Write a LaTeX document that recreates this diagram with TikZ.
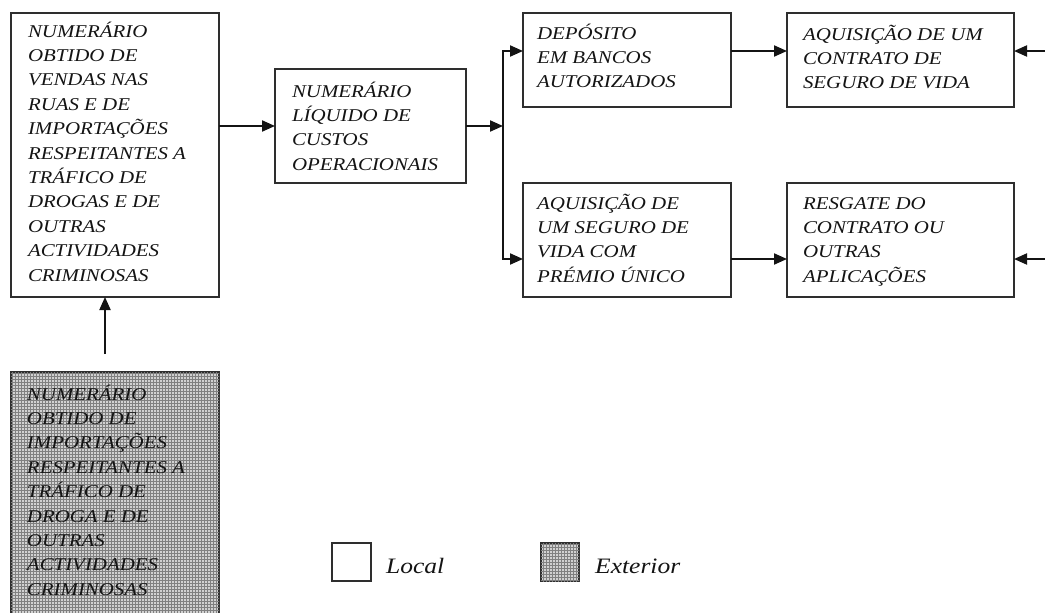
\documentclass[tikz,border=0pt]{standalone}
\usepackage{fontspec}
\setmainfont{Liberation Serif}
\newfontfamily\tfont[FakeStretch=1.16]{Liberation Serif}
\usetikzlibrary{arrows.meta,patterns}
\begin{document}
\begin{tikzpicture}[x=1pt,y=-1pt,
  box/.style={draw=black!82,line width=2pt,rectangle,inner sep=0pt,outer sep=0pt,anchor=north west},
  ext/.style={box,fill=black!18,postaction={pattern=grid,pattern color=black!50}},
  txt/.style={anchor=north west,inner sep=0pt,outer sep=0pt,align=left,text=black!92,
    font=\tfont\itshape\fontsize{18}{24.4}\selectfont},
  leg/.style={anchor=base west,inner sep=0pt,text=black!92,
    font=\tfont\itshape\fontsize{22}{26}\selectfont},
  arr/.style={line width=2pt,draw=black!92,-{Triangle[length=13pt,width=11pt]}}]
\path[use as bounding box,clip] (0,0) rectangle (1045,613);
\fill[white] (0,0) rectangle (1045,613);

% boxes
\node[box,minimum width=208pt,minimum height=284pt] (A) at (11,13) {};
\node[box,minimum width=191pt,minimum height=114pt] (B) at (275,69) {};
\node[box,minimum width=208pt,minimum height=94pt] (C) at (523,13) {};
\node[box,minimum width=208pt,minimum height=114pt] (D) at (523,183) {};
\node[box,minimum width=227pt,minimum height=94pt] (E) at (787,13) {};
\node[box,minimum width=227pt,minimum height=114pt] (F) at (787,183) {};
\node[ext,minimum width=208pt,minimum height=270pt] (G) at (11,372) {};

% texts
\newcommand{\tstrut}{\rule{0pt}{18pt}}
\node[txt] (tA) at (28,19) {\tstrut NUMERÁRIO\\OBTIDO DE\\VENDAS NAS\\RUAS E DE\\IMPORTAÇÕES\\RESPEITANTES A\\TRÁFICO DE\\DROGAS E DE\\OUTRAS\\ACTIVIDADES\\CRIMINOSAS};
\node[txt] (tB) at (292,79) {\tstrut NUMERÁRIO\\LÍQUIDO DE\\CUSTOS\\OPERACIONAIS};
\node[txt] (tC) at (537,21) {\tstrut DEPÓSITO\\EM BANCOS\\AUTORIZADOS};
\node[txt] (tD) at (537,191) {\tstrut AQUISIÇÃO DE\\UM SEGURO DE\\VIDA COM\\PRÉMIO ÚNICO};
\node[txt] (tE) at (803,22) {\tstrut AQUISIÇÃO DE UM\\CONTRATO DE\\SEGURO DE VIDA};
\node[txt] (tF) at (803,191) {\tstrut RESGATE DO\\CONTRATO OU\\OUTRAS\\APLICAÇÕES};
\node[txt] (tG) at (27,382) {\tstrut NUMERÁRIO\\OBTIDO DE\\IMPORTAÇÕES\\RESPEITANTES A\\TRÁFICO DE\\DROGA E DE\\OUTRAS\\ACTIVIDADES\\CRIMINOSAS};

% connectors
\coordinate (J) at (503,126);
\draw[arr] ([yshift=29pt]A.east) -- ([yshift=29pt]A.east -| B.west);
\draw[arr] (B.east) -- (J);
\draw[arr] (J) |- ([yshift=9pt]C.west);
\draw[arr] (J) |- ([yshift=-19pt]D.west);
\draw[arr] ([yshift=9pt]C.east) -- ([yshift=9pt]E.west);
\draw[arr] ([yshift=-19pt]D.east) -- ([yshift=-19pt]F.west);
\coordinate (rE) at (1047,51);
\coordinate (rF) at (1047,259);
\draw[arr] (rE) -- (rE -| E.east);
\draw[arr] (rF) -- (rF -| F.east);
\coordinate (gs) at (105,354);
\draw[arr] (gs) -- (gs |- A.south);

% legend
\node[box,minimum width=39pt,minimum height=38pt] (L1) at (332,543) {};
\node[ext,minimum width=38pt,minimum height=38pt] (L2) at (541,543) {};
\node[leg] (tL1) at (386,573) {Local};
\node[leg] (tL2) at (595,573) {Exterior};
\end{tikzpicture}
\end{document}
